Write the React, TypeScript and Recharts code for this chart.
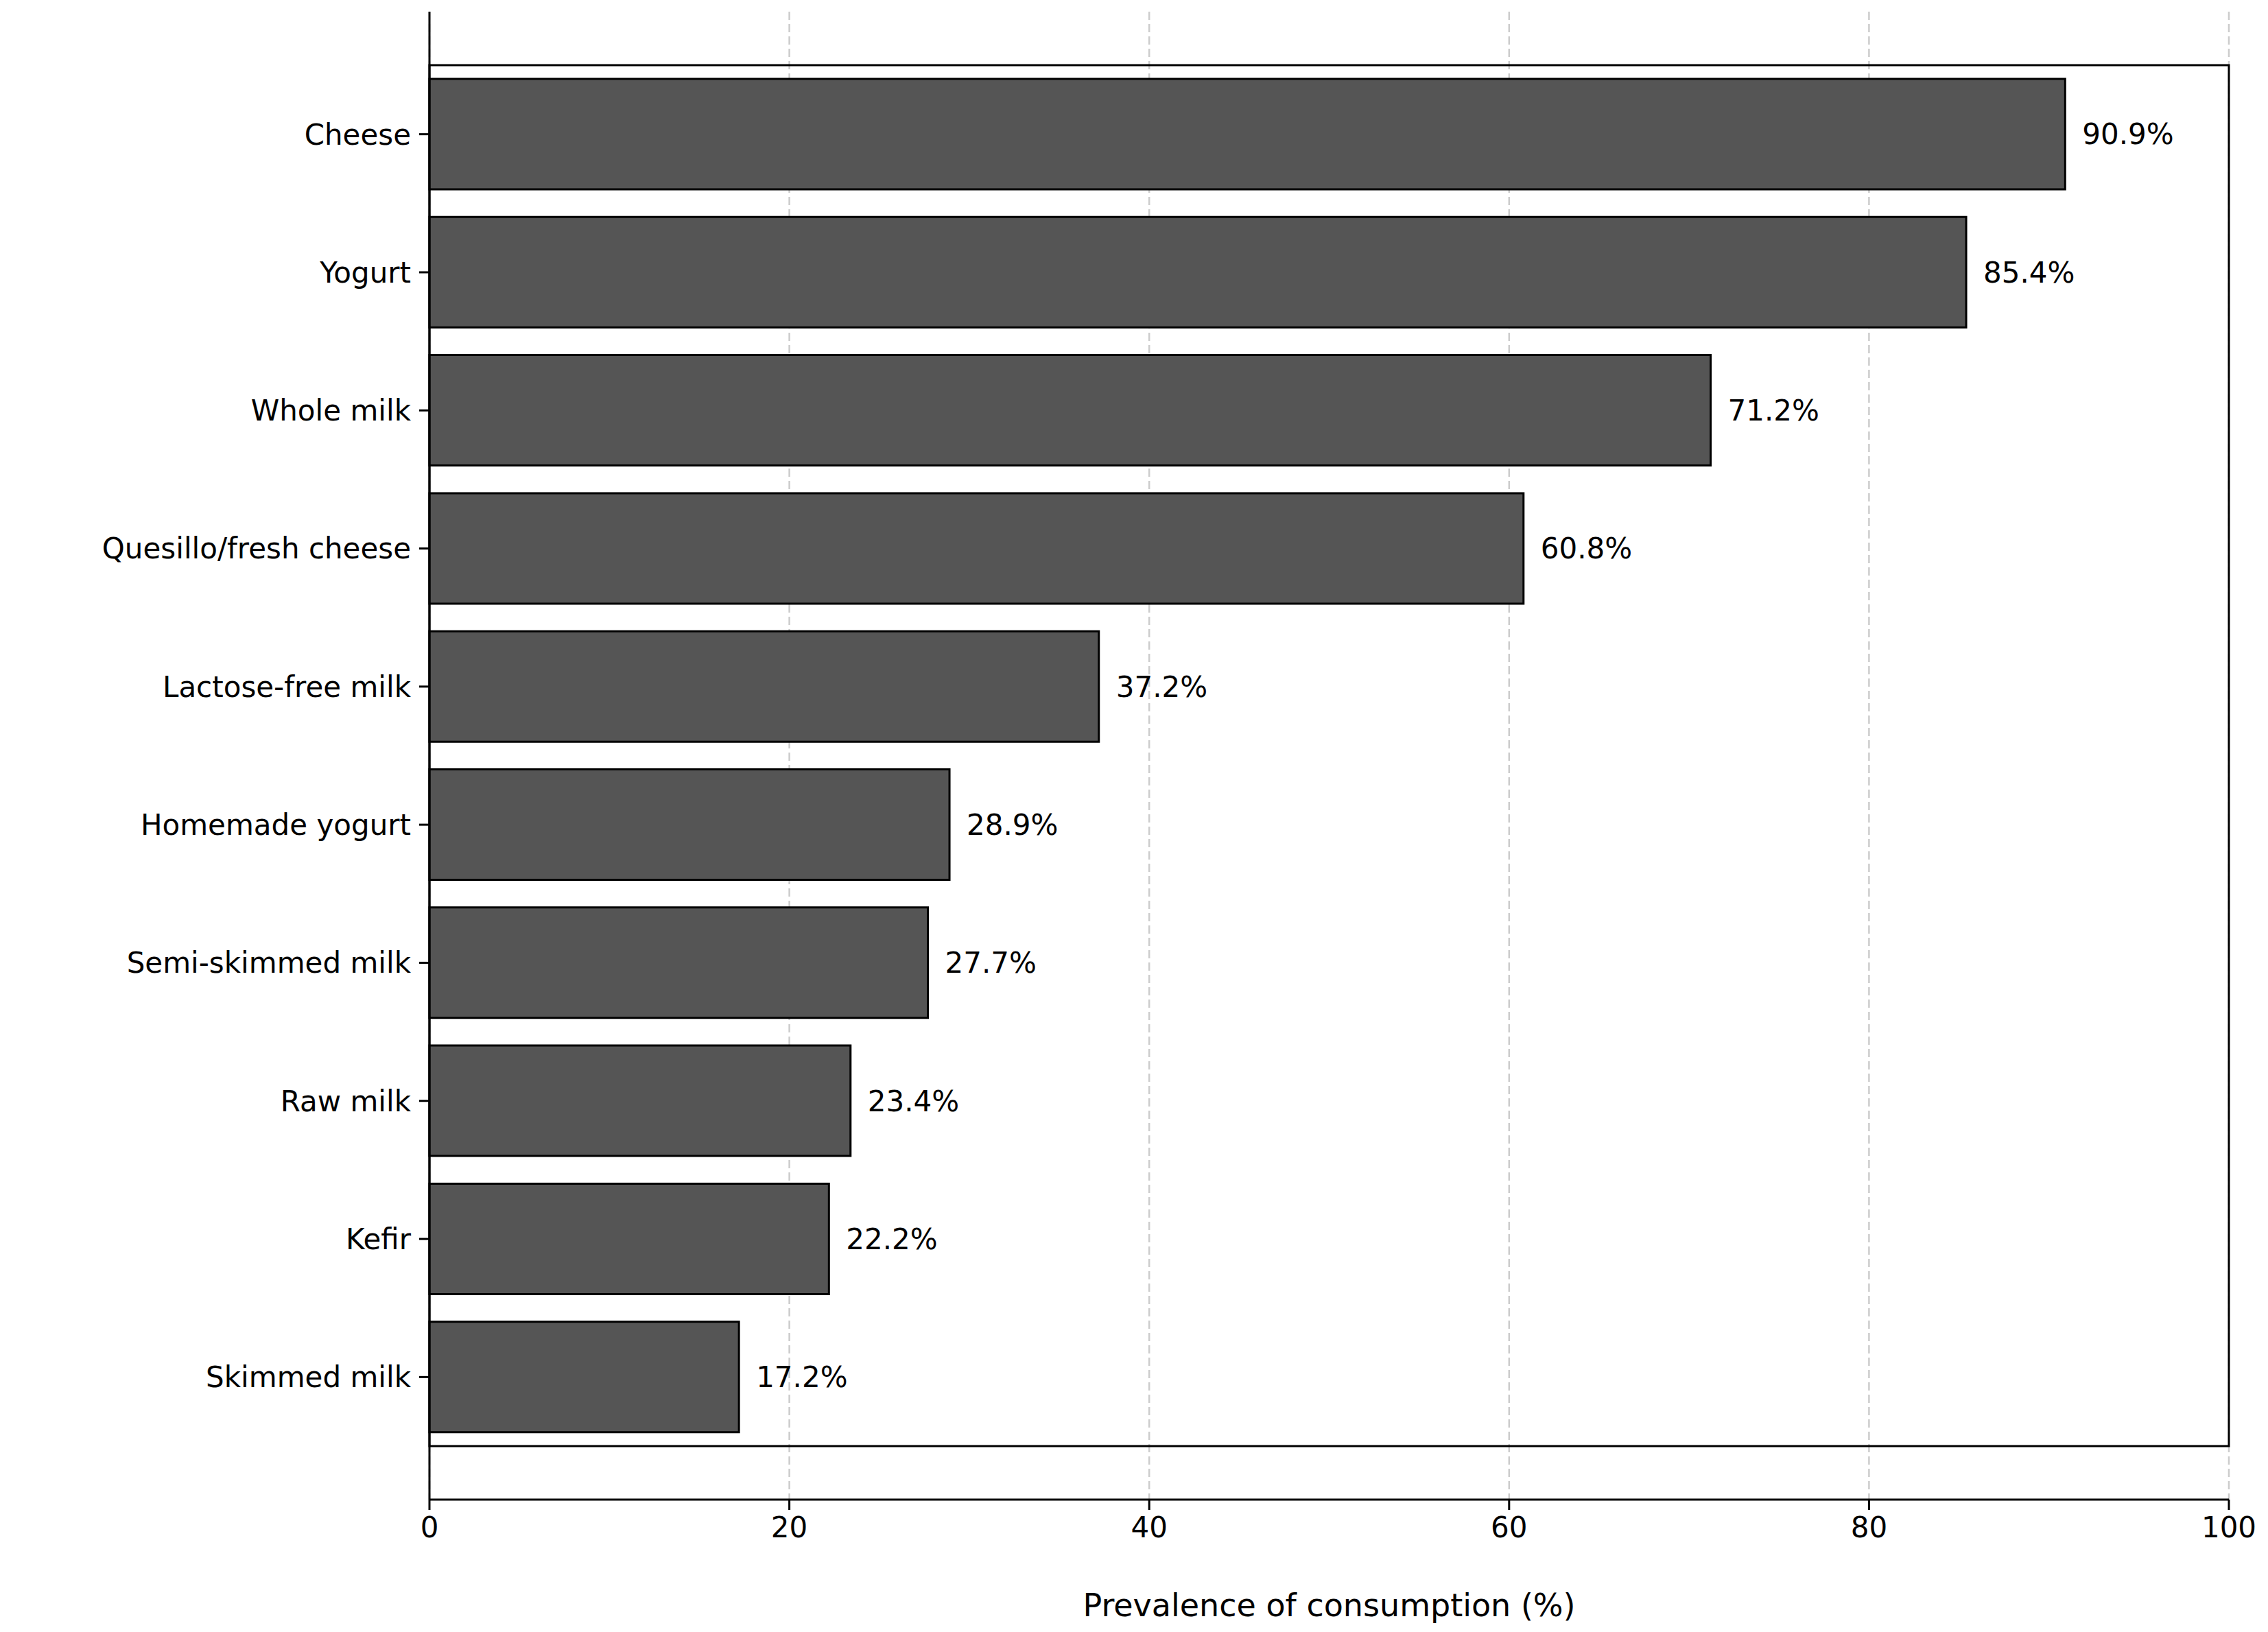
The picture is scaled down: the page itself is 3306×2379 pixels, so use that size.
import {
  Bar,
  BarChart,
  CartesianGrid,
  LabelList,
  ReferenceArea,
  XAxis,
  YAxis,
} from "recharts";

const categories = [
  "Cheese",
  "Yogurt",
  "Whole milk",
  "Quesillo/fresh cheese",
  "Lactose-free milk",
  "Homemade yogurt",
  "Semi-skimmed milk",
  "Raw milk",
  "Kefir",
  "Skimmed milk",
];
const prevalence = [90.9, 85.4, 71.2, 60.8, 37.2, 28.9, 27.7, 23.4, 22.2, 17.2];
const xTicks = [0, 20, 40, 60, 80, 100];

const data = categories.map((name, i) => ({ name, value: prevalence[i] }));

const font = "'DejaVu Sans', sans-serif";

export default function App() {
  return (
    <div
      style={{
        position: "absolute",
        left: 0,
        top: 0,
        width: 3306,
        height: 2379,
        background: "#fff",
        fontFamily: font,
      }}
    >
      <BarChart
        width={3306}
        height={2379}
        data={data}
        layout="vertical"
        margin={{ top: 17, right: 57, left: 26, bottom: 13 }}
      >
        <CartesianGrid
          horizontal={false}
          stroke="#cccccc"
          strokeDasharray="12 6"
          strokeWidth={2.5}
        />
        <XAxis
          type="number"
          domain={[0, 100]}
          ticks={xTicks}
          height={180}
          stroke="#000"
          strokeWidth={3}
          tickSize={15}
          tickMargin={10}
          tick={{ fontSize: 42, fill: "#000", fontFamily: font }}
          label={{
            value: "Prevalence of consumption (%)",
            position: "insideBottom",
            offset: 10,
            style: { fontSize: 46, fill: "#000", fontFamily: font },
          }}
        />
        <YAxis
          type="category"
          dataKey="name"
          width={600}
          stroke="#000"
          strokeWidth={3}
          tickSize={15}
          tickMargin={12}
          padding={{ top: 78, bottom: 78 }}
          tick={{ fontSize: 42, fill: "#000", fontFamily: font }}
        />
        <Bar
          dataKey="value"
          fill="#555555"
          stroke="#000"
          strokeWidth={3}
          barSize={161}
          isAnimationActive={false}
        >
          <LabelList
            dataKey="value"
            position="right"
            offset={25}
            formatter={(v: number) => `${v.toFixed(1)}%`}
            style={{ fontSize: 42, fill: "#000", fontFamily: font }}
          />
        </Bar>
        <ReferenceArea
          x1={0}
          x2={100}
          fill="none"
          stroke="#000"
          strokeWidth={3}
          fillOpacity={0}
          ifOverflow="visible"
        />
      </BarChart>
    </div>
  );
}
